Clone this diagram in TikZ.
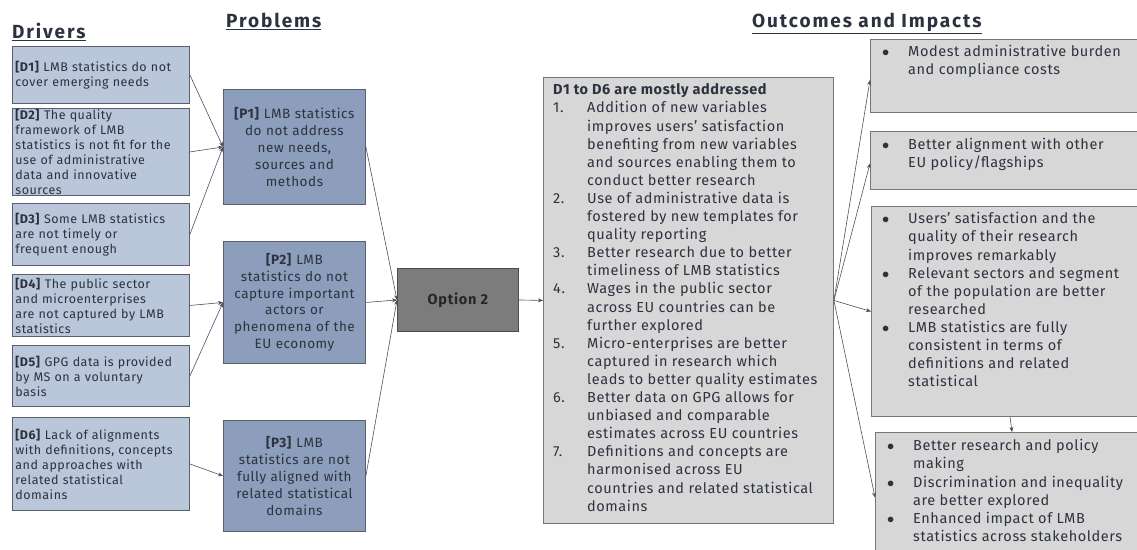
\documentclass[tikz,border=0pt]{standalone}
\usepackage{fontspec}
\setmainfont{Fira Sans}[LetterSpace = 4]
\usetikzlibrary{arrows.meta, calc}

\definecolor{drvfill}{RGB}{186,198,218}
\definecolor{prbfill}{RGB}{140,158,188}
\definecolor{optfill}{RGB}{124,124,124}
\definecolor{outfill}{RGB}{215,215,215}
\definecolor{drvline}{RGB}{88,96,112}
\definecolor{outline}{RGB}{118,118,118}
\definecolor{txtcol}{RGB}{44,50,62}

\newcommand{\tag}[1]{\textbf{[#1]}}

\begin{document}
\begin{tikzpicture}[
    x = 1pt, y = -1pt,
    every node/.style = {text = txtcol},
    heading/.style = {anchor = north west, inner sep = 0pt,
      font = \fontsize{19}{21}\selectfont\addfontfeatures{LetterSpace = 10}\bfseries},
    driver/.style = {draw = drvline, fill = drvfill, line width = 0.9pt,
      anchor = north west, inner xsep = 3pt, inner ysep = 0pt,
      align = left, text width = 171pt, minimum width = 177pt,
      minimum height = #1, font = \fontsize{12.5}{15}\selectfont},
    problem/.style = {draw = drvline, fill = prbfill, line width = 0.9pt,
      anchor = north west, inner xsep = 4pt, inner ysep = 0pt,
      align = center, text width = 134pt, minimum width = 142pt,
      minimum height = #1, font = \fontsize{13.5}{16.8}\selectfont},
    option/.style = {draw = black!70, fill = optfill, line width = 0.9pt,
      anchor = north west, minimum width = 121pt, minimum height = 63pt,
      text = black!85,
      font = \fontsize{14.5}{16}\selectfont\addfontfeatures{LetterSpace = 5}\bfseries},
    outcome/.style = {draw = outline, fill = outfill, line width = 0.9pt,
      anchor = north west, inner sep = 0pt, minimum width = 280pt,
      minimum height = #1},
    listtext/.style = {anchor = north west, inner sep = 0pt,
      font = \fontsize{14.5}{18.1}\selectfont},
    arr/.style = {draw = txtcol!85, line width = 0.6pt,
      -{Stealth[length = 5pt, width = 4pt]}}
    ]
    \clip (0, 0) rectangle (1137, 549);

    % column headings
    \node [heading] (hdrv) at (12, 23) {\underline{Drivers}};
    \node [heading] (hprb) at (226, 13) {\underline{Problems}};
    \node [heading] (hout) at (752, 13) {\underline{Outcomes and Impacts}};

    % drivers
    \node [driver = 57pt] (d1) at (12, 46)
    {\tag{D1} LMB statistics do not\\cover emerging needs};
    \node [driver = 87pt] (d2) at (12, 108)
    {\tag{D2} The quality\\framework of LMB\\statistics is not fit for the\\use of administrative\\data and innovative\\sources};
    \node [driver = 62pt] (d3) at (12, 203)
    {\tag{D3} Some LMB statistics\\are not timely or\\frequent enough};
    \node [driver = 62pt] (d4) at (12, 274)
    {\tag{D4} The public sector\\and microenterprises\\are not captured by LMB\\statistics};
    \node [driver = 61pt] (d5) at (12, 345)
    {\tag{D5} GPG data is provided\\by MS on a voluntary\\basis};
    \node [driver = 93pt] (d6) at (12, 417)
    {\tag{D6} Lack of alignments\\with definitions, concepts\\and approaches with\\related statistical\\domains};

    % problems
    \node [problem = 115pt] (p1) at (223, 89)
    {\tag{P1} LMB statistics\\do not address\\new needs,\\sources and\\methods};
    \node [problem = 122pt] (p2) at (223, 241)
    {\tag{P2} LMB\\statistics do not\\capture important\\actors or\\phenomena of the\\EU economy};
    \node [problem = 111pt] (p3) at (223, 420)
    {\tag{P3} LMB\\statistics are not\\fully aligned with\\related statistical\\domains};

    % option
    \node [option] (opt) at (397, 268) {Option 2};

    % outcomes
    \node [outcome = 446pt, minimum width = 290pt] (big) at (543, 77) {};
    \node [listtext] (bigtext) at ($(big.north west) + (10, 5)$) {%
      \begin{tabular}{@{}p{34pt}@{}l@{}}
        \multicolumn{2}{@{}l@{}}{\textbf{D1 to D6 are mostly addressed}}\\
        1. & Addition of new variables\\
           & improves users' satisfaction\\
           & benefiting from new variables\\
           & and sources enabling them to\\
           & conduct better research\\
        2. & Use of administrative data is\\
           & fostered by new templates for\\
           & quality reporting\\
        3. & Better research due to better\\
           & timeliness of LMB statistics\\
        4. & Wages in the public sector\\
           & across EU countries can be\\
           & further explored\\
        5. & Micro-enterprises are better\\
           & captured in research which\\
           & leads to better quality estimates\\
        6. & Better data on GPG allows for\\
           & unbiased and comparable\\
           & estimates across EU countries\\
        7. & Definitions and concepts are\\
           & harmonised across EU\\
           & countries and related statistical\\
           & domains
      \end{tabular}};

    \node [outcome = 73pt] (o1) at (870, 39) {};
    \node [listtext] (o1text) at ($(o1.north west) + (12, 5)$) {%
      \begin{tabular}{@{}p{26pt}@{}l@{}}
        $\bullet$ & Modest administrative burden\\
                  & and compliance costs
      \end{tabular}};
    \node [outcome = 58pt] (o2) at (870, 131) {};
    \node [listtext] (o2text) at ($(o2.north west) + (12, 6)$) {%
      \begin{tabular}{@{}p{26pt}@{}l@{}}
        $\bullet$ & Better alignment with other\\
                  & EU policy/flagships
      \end{tabular}};
    \node [outcome = 210pt] (o3) at (871, 206) {};
    \node [listtext] (o3text) at ($(o3.north west) + (11, 5)$) {%
      \begin{tabular}{@{}p{26pt}@{}l@{}}
        $\bullet$ & Users' satisfaction and the\\
                  & quality of their research\\
                  & improves remarkably\\
        $\bullet$ & Relevant sectors and segment\\
                  & of the population are better\\
                  & researched\\
        $\bullet$ & LMB statistics are fully\\
                  & consistent in terms of\\
                  & definitions and related\\
                  & statistical
      \end{tabular}};
    \node [outcome = 130pt] (o4) at (875, 432) {};
    \node [listtext] (o4text) at ($(o4.north west) + (12, 6)$) {%
      \begin{tabular}{@{}p{26pt}@{}l@{}}
        $\bullet$ & Better research and policy\\
                  & making\\
        $\bullet$ & Discrimination and inequality\\
                  & are better explored\\
        $\bullet$ & Enhanced impact of LMB\\
                  & statistics across stakeholders
      \end{tabular}};

    % drivers to problems
    \draw [arr] (d1.east) -- (p1.west);
    \draw [arr] (d2.east) -- (p1.west);
    \draw [arr] (d3.east) -- (p1.west);
    \draw [arr] (d4.east) -- (p2.west);
    \draw [arr] (d5.east) -- (p2.west);
    \draw [arr] (d6.east) -- (p3.west);

    % problems to option, option to outcomes
    \draw [arr] (p1.east) -- (opt.west);
    \draw [arr] (p2.east) -- (opt.west);
    \draw [arr] (p3.east) -- (opt.west);
    \draw [arr] (opt.east) -- (big.west);

    \draw [arr] (big.east) -- ($(o1.west) + (0, 4)$);
    \draw [arr] (big.east) -- ($(o2.west) + (0, 3)$);
    \draw [arr] (big.east) -- (o3.west);
    \draw [arr] (big.east) -- (o4.west);
    \draw [arr] ($(o3.south west) + (139, 0)$) -- ($(o4.north west) + (137, 0)$);

  \end{tikzpicture}
\end{document}
